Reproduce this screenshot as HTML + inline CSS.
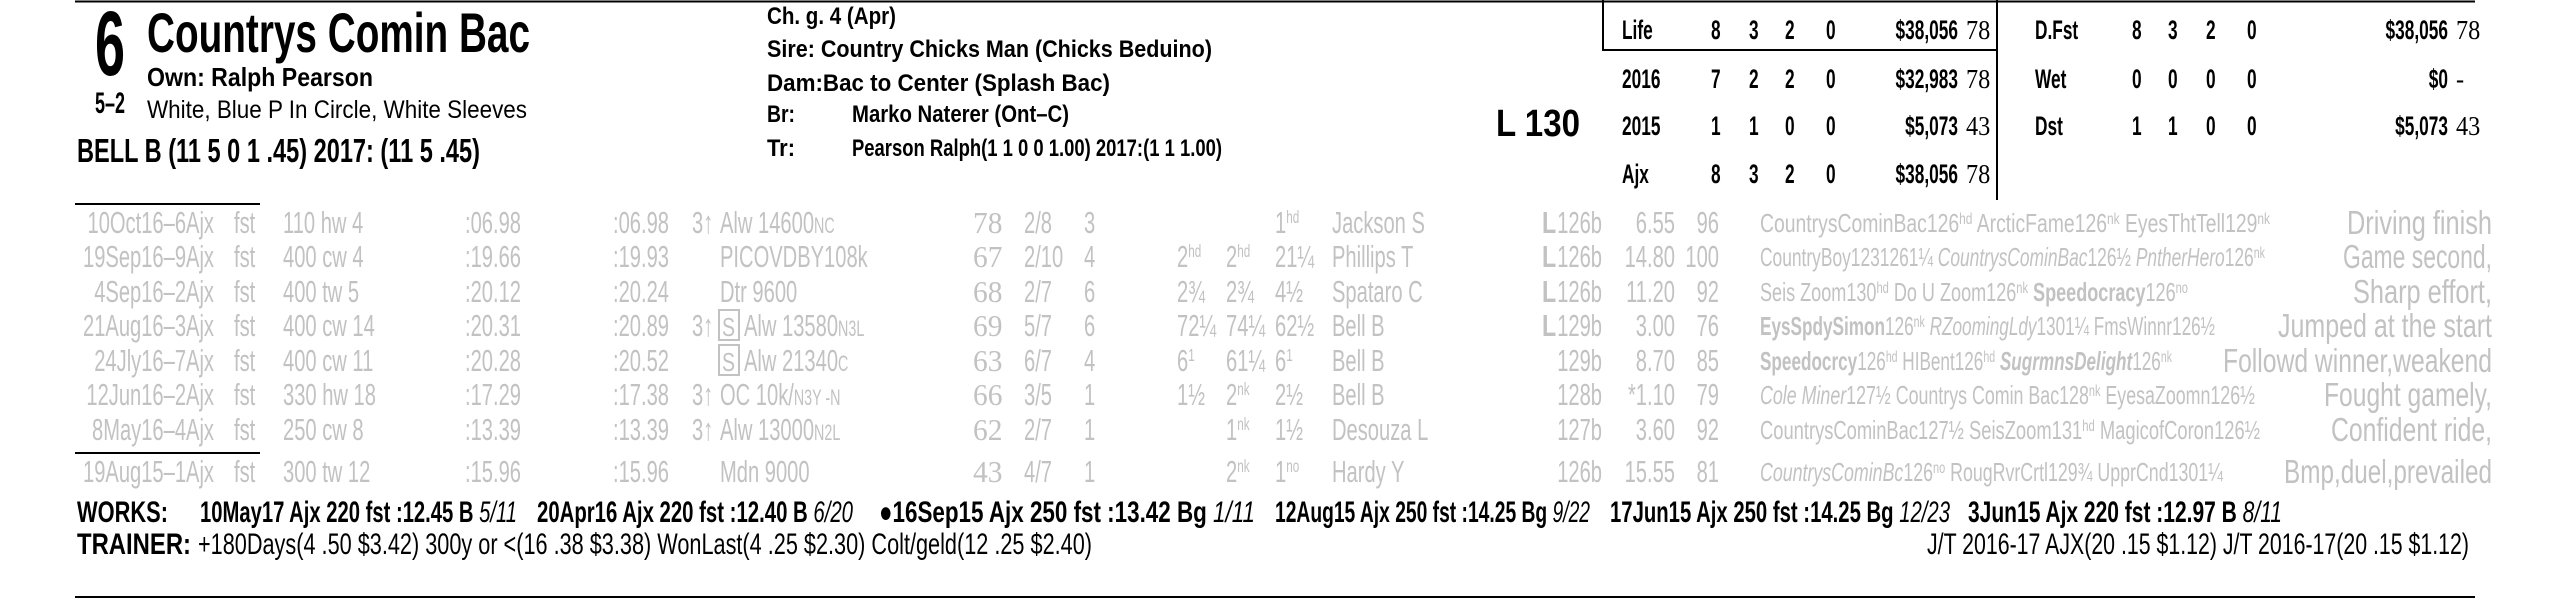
<!DOCTYPE html>
<html><head><meta charset="utf-8">
<style>
html,body{margin:0;padding:0;background:#fff;}
svg{display:block;font-family:"Liberation Sans",sans-serif;}
</style></head>
<body>
<svg id="card" xmlns="http://www.w3.org/2000/svg" width="2550" height="600" viewBox="0 0 2550 600">
  <line x1="75" y1="1.5" x2="2475" y2="1.5" stroke="#000" stroke-width="2"/>
  <rect x="1603" y="-1" width="394" height="51" fill="none" stroke="#000" stroke-width="2"/>
  <line x1="1997" y1="0" x2="1997" y2="200" stroke="#000" stroke-width="2"/>
  <line x1="75" y1="204" x2="260" y2="204" stroke="#000" stroke-width="2"/>
  <line x1="75" y1="453" x2="260" y2="453" stroke="#000" stroke-width="2"/>
  <line x1="75" y1="597" x2="2475" y2="597" stroke="#000" stroke-width="2"/>
  <g id="txt"></g>
</svg>
<script>
const dates=["10Oct16–6Ajx","19Sep16–9Ajx","4Sep16–2Ajx","21Aug16–3Ajx","24Jly16–7Ajx","12Jun16–2Ajx","8May16–4Ajx","19Aug15–1Ajx"];
const dists=["110 hw 4","400 cw 4","400 tw 5","400 cw 14","400 cw 11","330 hw 18","250 cw 8","300 tw 12"];
const time1=[":06.98",":19.66",":20.12",":20.31",":20.28",":17.29",":13.39",":15.96"];
const time2=[":06.98",":19.93",":20.24",":20.89",":20.52",":17.38",":13.39",":15.96"];
const ageFlag=["3↑","","","3↑","","3↑","3↑",""];
const stateBred=[false,false,false,true,true,false,false,false];
const classMain=["Alw 14600","PICOVDBY108k","Dtr 9600","Alw 13580","Alw 21340","OC 10k/","Alw 13000","Mdn 9000"];
const classSuf=["NC","","","N3L","C","N3Y -N","N2L",""];
const figs=["78","67","68","69","63","66","62","43"];
const posts=["2/8","2/10","2/7","5/7","6/7","3/5","2/7","4/7"];
const starts=["3","4","6","6","4","1","1","1"];
const call1=["","2^hd","2¾","72¼","6^1","1½","",""];
const call2=["","2^hd","2¾","74¼","61¼","2^nk","1^nk","2^nk"];
const fins=["1^hd","21¼","4½","62½","6^1","2½","1½","1^no"];
const jockeys=["Jackson S","Phillips T","Spataro C","Bell B","Bell B","Bell B","Desouza L","Hardy Y"];
const lasix=[true,true,true,true,false,false,false,false];
const weights=["126b","126b","126b","129b","129b","128b","127b","126b"];
const odds=["6.55","14.80","11.20","3.00","8.70","*1.10","3.60","15.55"];
const fieldNums=["96","100","92","76","85","79","92","81"];
const comps=[
 'CountrysCominBac126<tspan font-size="16" dy="-8">hd</tspan><tspan dy="8"> ArcticFame126</tspan><tspan font-size="16" dy="-8">nk</tspan><tspan dy="8"> EyesThtTell129</tspan><tspan font-size="16" dy="-8">nk</tspan>',
 'CountryBoy1231261¼ <tspan font-style="italic">CountrysCominBac</tspan>126½ <tspan font-style="italic">PntherHero</tspan>126<tspan font-size="16" dy="-8">nk</tspan>',
 'Seis Zoom130<tspan font-size="16" dy="-8">hd</tspan><tspan dy="8"> Do U Zoom126</tspan><tspan font-size="16" dy="-8">nk</tspan><tspan dy="8" font-weight="bold"> Speedocracy</tspan>126<tspan font-size="16" dy="-8">no</tspan>',
 '<tspan font-weight="bold">EysSpdySimon</tspan>126<tspan font-size="16" dy="-8">nk</tspan><tspan dy="8" font-style="italic"> RZoomingLdy</tspan>1301¼ FmsWinnr126½',
 '<tspan font-weight="bold">Speedocrcy</tspan>126<tspan font-size="16" dy="-8">hd</tspan><tspan dy="8"> HIBent126</tspan><tspan font-size="16" dy="-8">hd</tspan><tspan dy="8" font-weight="bold" font-style="italic"> SugrmnsDelight</tspan>126<tspan font-size="16" dy="-8">nk</tspan>',
 '<tspan font-style="italic">Cole Miner</tspan>127½ Countrys Comin Bac128<tspan font-size="16" dy="-8">nk</tspan><tspan dy="8"> EyesaZoomn126½</tspan>',
 'CountrysCominBac127½ SeisZoom131<tspan font-size="16" dy="-8">hd</tspan><tspan dy="8"> MagicofCoron126½</tspan>',
 '<tspan font-style="italic">CountrysCominBc</tspan>126<tspan font-size="16" dy="-8">no</tspan><tspan dy="8"> RougRvrCrtl129¾ UpprCnd1301¼</tspan>'
];
const compEnds=[2270,2265,2188,2215,2172,2255,2260,2223];
const remarks=["Driving finish","Game second,","Sharp effort,","Jumped at the start","Followd winner,weakend","Fought gamely,","Confident ride,","Bmp,duel,prevailed"];
const remarkStarts=[2347,2343,2353,2278,2223,2324,2331,2284];
const rowCenters=[222,256,291,325,360,394,429,471];

const NS="http://www.w3.org/2000/svg";
const G=document.getElementById('txt');
function T(name,x,y,s,size,o){
  o=o||{};
  const el=document.createElementNS(NS,'text');
  
  
  el.setAttribute('font-size',size);
  el.setAttribute('fill',o.fill||'#000');
  if(o.bold) el.setAttribute('font-weight','bold');
  if(o.italic) el.setAttribute('font-style','italic');
  if(o.family) el.setAttribute('font-family',o.family);
  if(o.anchor) el.setAttribute('text-anchor',o.anchor);
  if(o.w){
    el.setAttribute('x',x);el.setAttribute('y',y);
    el.setAttribute('textLength',o.w);el.setAttribute('lengthAdjust','spacingAndGlyphs');
  } else {
    const sx=(o.sx===undefined)?0.65:o.sx;
    el.setAttribute('x',0);el.setAttribute('y',0);
    el.setAttribute('transform','translate('+x+','+y+') scale('+sx+',1)');
  }
  if(o.html) el.innerHTML=s; else el.textContent=s;
  G.appendChild(el);
  return el;
}
function sup(s){
  if(s.indexOf('^')<0) return s.replace(/&/g,'&amp;');
  const p=s.split('^');
  return p[0]+'<tspan font-size="18" dy="-10">'+p[1]+'</tspan>';
}
// Header
T('program-number',95,75,'6',92,{bold:true,w:30});
T('horse-name',147,52,'Countrys Comin Bac',56,{bold:true,w:383});
T('owner',147,86,'Own: Ralph Pearson',26,{bold:true,w:226});
T('morning-line-odds',95,113,'5–2',30,{bold:true,w:30});
T('silks',147,118,'White, Blue P In Circle, White Sleeves',25,{w:380});
T('jockey-stats',77,162,'BELL B (11 5 0 1 .45) 2017: (11 5 .45)',33,{bold:true,w:403});
T('horse-description',767,24,'Ch. g. 4 (Apr)',24,{bold:true,w:129});
T('sire',767,57,'Sire: Country Chicks Man (Chicks Beduino)',24,{bold:true,w:445});
T('dam',767,91,'Dam:Bac to Center (Splash Bac)',24,{bold:true,w:343});
T('breeder-label',767,122,'Br:',24,{bold:true,w:28});
T('breeder',852,122,'Marko Naterer (Ont–C)',24,{bold:true,w:217});
T('trainer-label',767,156,'Tr:',24,{bold:true,w:28});
T('trainer-record',852,156,'Pearson Ralph(1  1  0  0  1.00)  2017:(1  1  1.00)',24,{bold:true,w:370});
T('weight-carried',1496,136,'L 130',38,{bold:true,w:84});
// Stats table
const statLabels=[["Life","8","3","2","0","$38,056","78"],["2016","7","2","2","0","$32,983","78"],["2015","1","1","0","0","$5,073","43"],["Ajx","8","3","2","0","$38,056","78"]];
const statLabelsR=[["D.Fst","8","3","2","0","$38,056","78"],["Wet","0","0","0","0","$0","-"],["Dst","1","1","0","0","$5,073","43"]];
const statBase=[39,88,135,183];
const colL=[1622,1711,1749,1785,1826,1958,1966];
const colR=[2035,2132,2168,2206,2247,2448,2456];
function statRow(arr,cols,y,prefix){
  T(prefix+'-label',cols[0],y,arr[0],27,{bold:true,sx:0.64});
  for(let i=1;i<=4;i++) T(prefix+'-count',cols[i],y,arr[i],27,{bold:true,sx:0.64});
  T(prefix+'-earnings',cols[5],y,arr[5],27,{bold:true,sx:0.64,anchor:'end'});
  T(prefix+'-speed-rating',cols[6],y,arr[6],27,{family:'"Liberation Serif",serif',sx:0.9});
}
statLabels.forEach((r,i)=>statRow(r,colL,statBase[i],'stat-'+r[0].toLowerCase()));
statLabelsR.forEach((r,i)=>statRow(r,colR,statBase[i],'stat-'+r[0].toLowerCase().replace('.','')));
// PP rows
const GR='#c2c2c2';
const FS=31;
for(let i=0;i<dates.length;i++){
  const y=rowCenters[i]+11;
  T('race-date',214,y,dates[i],FS,{fill:GR,anchor:'end'});
  T('track-condition',234,y,'fst',FS,{fill:GR});
  T('distance',283,y,dists[i],FS,{fill:GR});
  T('time-first',521,y,time1[i],FS,{fill:GR,anchor:'end'});
  T('time-final',669,y,time2[i],FS,{fill:GR,anchor:'end'});
  if(ageFlag[i]) T('age-restriction',692,y,ageFlag[i],FS,{fill:GR});
  let cx=720;
  if(stateBred[i]){
    T('state-bred-icon',722,y,'S',26,{fill:GR,sx:0.75});
    const r=document.createElementNS(NS,'rect');
    
    
    r.setAttribute('x',719);r.setAttribute('y',y-26);r.setAttribute('width',20);r.setAttribute('height',30);
    r.setAttribute('fill','none');r.setAttribute('stroke',GR);r.setAttribute('stroke-width',2);
    G.appendChild(r);
    cx=744;
  }
  T('race-class',cx,y,classMain[i]+(classSuf[i]?'<tspan font-size="22">'+classSuf[i]+'</tspan>':''),FS,{fill:GR,html:true});
  T('speed-figure',973,y,figs[i],31,{fill:GR,family:'"Liberation Serif",serif',sx:0.95});
  T('post-position',1024,y,posts[i],FS,{fill:GR});
  T('start-position',1084,y,starts[i],FS,{fill:GR});
  if(call1[i]) T('first-call',1177,y,sup(call1[i]),FS,{fill:GR,html:true});
  if(call2[i]) T('second-call',1226,y,sup(call2[i]),FS,{fill:GR,html:true});
  T('finish-position',1275,y,sup(fins[i]),FS,{fill:GR,html:true});
  T('jockey',1332,y,jockeys[i],FS,{fill:GR});
  if(lasix[i]) T('lasix-flag',1542,y,'L',FS,{fill:GR,bold:true,sx:0.75});
  T('weight',1602,y,weights[i],FS,{fill:GR,anchor:'end'});
  T('odds',1675,y,odds[i],FS,{fill:GR,anchor:'end'});
  T('field-value',1719,y,fieldNums[i],FS,{fill:GR,anchor:'end'});
  T('company-line',1760,y-1,comps[i],26,{fill:GR,html:true,w:compEnds[i]-1760});
  T('trip-comment',remarkStarts[i],y+1,remarks[i],33,{fill:GR,w:2492-remarkStarts[i]});
}
// Works
const wy=522;
T('works-label',77,wy,'WORKS:',30,{bold:true,w:91});
const works=[
 ['10May17 Ajx 220 fst  :12.45 B ','5/11',200,517],
 ['20Apr16 Ajx 220 fst  :12.40 B ','6/20',537,853],
 ['●16Sep15 Ajx 250 fst  :13.42 Bg ','1/11',879,1255],
 ['12Aug15 Ajx 250 fst  :14.25 Bg ','9/22',1275,1590],
 ['17Jun15 Ajx 250 fst  :14.25 Bg ','12/23',1610,1950],
 ['3Jun15 Ajx 220 fst  :12.97 B ','8/11',1968,2282]
];
works.forEach(w=>{
  T('workout-entry',w[2],wy,w[0]+'<tspan font-weight="normal" font-style="italic">'+w[1]+'</tspan>',30,{bold:true,html:true,w:w[3]-w[2]});
});
T('trainer-label-bottom',77,554,'TRAINER:',30,{bold:true,w:114});
T('trainer-stats',198,554,'+180Days(4 .50  $3.42) 300y or &lt;(16 .38  $3.38) WonLast(4 .25  $2.30) Colt/geld(12 .25  $2.40)',30,{html:true,w:894});
T('jockey-trainer-stats',2469,554,'J/T 2016-17 AJX(20  .15  $1.12)  J/T 2016-17(20  .15  $1.12)',30,{anchor:'end',w:542});
</script>
</body></html>
